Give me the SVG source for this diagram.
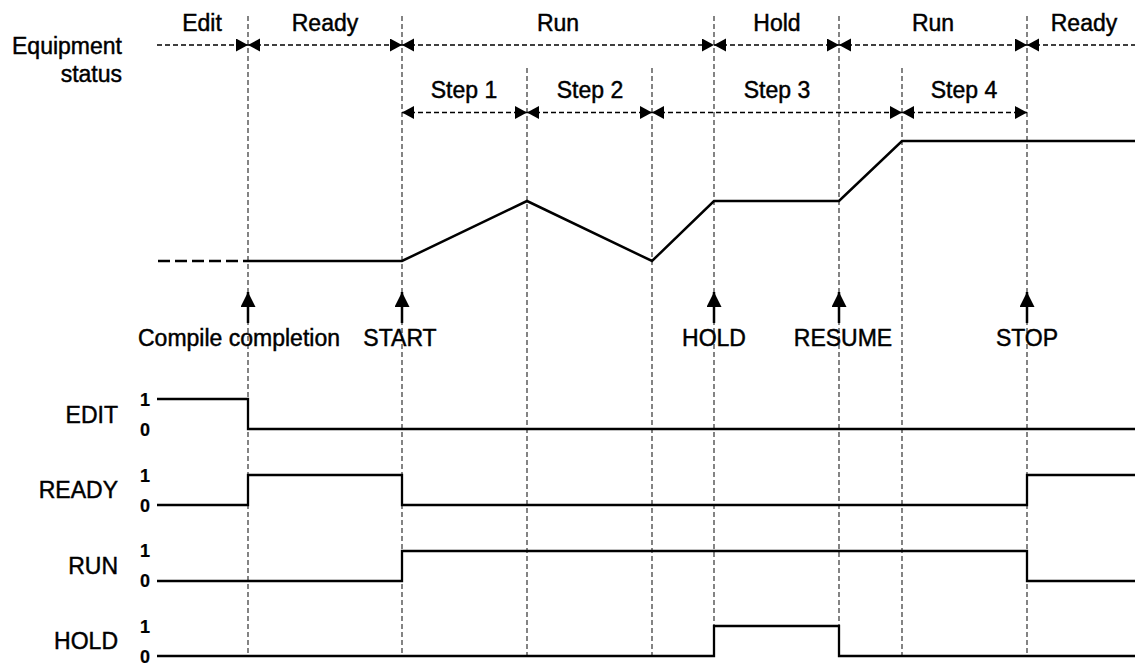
<svg xmlns="http://www.w3.org/2000/svg" width="1140" height="667" viewBox="0 0 1140 667">
<style>
text{font-family:"Liberation Sans",Arial,sans-serif;font-size:23px;fill:#000;stroke:#000;stroke-width:0.45}
.c{text-anchor:middle}
.e{text-anchor:end}
.d{font-size:18px;font-weight:bold;text-anchor:middle;stroke-width:0.2}
.vl{stroke:#333;stroke-width:1.2;stroke-dasharray:5 3;fill:none}
.hd{stroke:#000;stroke-width:1.3;stroke-dasharray:5 3;fill:none}
.ar{marker-start:url(#ah);marker-end:url(#ah)}
.sig{stroke:#000;stroke-width:2.3;fill:none}
.curve{stroke:#000;stroke-width:2.5;fill:none;stroke-linejoin:miter}
.ev{stroke:#000;stroke-width:2.5;fill:none}
</style>
<defs>
<marker id="ah" markerUnits="userSpaceOnUse" markerWidth="13" markerHeight="14" refX="12" refY="6.5" orient="auto-start-reverse" viewBox="0 0 13 14">
<path d="M0,0 L12,6.5 L0,13 Z" fill="#000"/>
</marker>
<marker id="up" markerUnits="userSpaceOnUse" markerWidth="16" markerHeight="16" refX="15" refY="7.5" orient="auto" viewBox="0 0 16 16">
<path d="M0,0 L15,7.5 L0,15 Z" fill="#000"/>
</marker>
</defs>

<g id="gridlines">
<line class="vl" x1="248" y1="16" x2="248" y2="657"/>
<line class="vl" x1="402" y1="16" x2="402" y2="657"/>
<line class="vl" x1="527" y1="68" x2="527" y2="657"/>
<line class="vl" x1="652" y1="68" x2="652" y2="657"/>
<line class="vl" x1="714" y1="16" x2="714" y2="657"/>
<line class="vl" x1="839" y1="16" x2="839" y2="657"/>
<line class="vl" x1="902" y1="68" x2="902" y2="657"/>
<line class="vl" x1="1027" y1="16" x2="1027" y2="657"/>
</g>

<g id="connectors">
<line class="hd" x1="157" y1="45" x2="248" y2="45" marker-end="url(#ah)"/>
<line class="hd ar" x1="248" y1="45" x2="402" y2="45"/>
<line class="hd ar" x1="402" y1="45" x2="714" y2="45"/>
<line class="hd ar" x1="714" y1="45" x2="839" y2="45"/>
<line class="hd ar" x1="839" y1="45" x2="1027" y2="45"/>
<line class="hd" x1="1027" y1="45" x2="1135" y2="45" marker-start="url(#ah)"/>

<line class="hd ar" x1="402" y1="112.5" x2="527" y2="112.5"/>
<line class="hd ar" x1="527" y1="112.5" x2="652" y2="112.5"/>
<line class="hd ar" x1="652" y1="112.5" x2="902" y2="112.5"/>
<line class="hd ar" x1="902" y1="112.5" x2="1027" y2="112.5"/>

<line x1="158" y1="261" x2="248" y2="261" stroke="#000" stroke-width="2.5" stroke-dasharray="12 5"/>
<polyline class="curve" points="248,261 402,261 527,201 652,261 714,201 839,201 902,141 1135,141"/>

<line class="ev" x1="248" y1="323" x2="248" y2="292" marker-end="url(#up)"/>
<line class="ev" x1="402" y1="323" x2="402" y2="292" marker-end="url(#up)"/>
<line class="ev" x1="714" y1="323" x2="714" y2="292" marker-end="url(#up)"/>
<line class="ev" x1="839" y1="323" x2="839" y2="292" marker-end="url(#up)"/>
<line class="ev" x1="1027" y1="323" x2="1027" y2="292" marker-end="url(#up)"/>
</g>

<g id="status-labels">
<text class="e" x="122" y="54">Equipment</text>
<text class="e" x="122" y="82">status</text>
<text class="c" x="202" y="31">Edit</text>
<text class="c" x="325" y="31">Ready</text>
<text class="c" x="558" y="31">Run</text>
<text class="c" x="777" y="31">Hold</text>
<text class="c" x="933" y="31">Run</text>
<text class="c" x="1084" y="31">Ready</text>
</g>

<g id="step-labels">
<text class="c" x="464" y="98">Step 1</text>
<text class="c" x="590" y="98">Step 2</text>
<text class="c" x="777" y="98">Step 3</text>
<text class="c" x="964" y="98">Step 4</text>
</g>

<g id="event-labels">
<text class="c" x="239" y="345.5">Compile completion</text>
<text class="c" x="400" y="345.5">START</text>
<text class="c" x="714" y="345.5">HOLD</text>
<text class="c" x="843" y="345.5">RESUME</text>
<text class="c" x="1027" y="345.5">STOP</text>
</g>

<g id="signal-edit">
<text class="e" x="118" y="423">EDIT</text>
<text class="d" x="145" y="406">1</text>
<text class="d" x="145" y="436">0</text>
<polyline class="sig" points="157,399 248,399 248,429 1135,429"/>
</g>

<g id="signal-ready">
<text class="e" x="118" y="498">READY</text>
<text class="d" x="145" y="481.5">1</text>
<text class="d" x="145" y="512">0</text>
<polyline class="sig" points="157,505 248,505 248,475 402,475 402,505 1027,505 1027,475 1135,475"/>
</g>

<g id="signal-run">
<text class="e" x="118" y="574">RUN</text>
<text class="d" x="145" y="557">1</text>
<text class="d" x="145" y="587">0</text>
<polyline class="sig" points="157,581 402,581 402,551 1027,551 1027,581 1135,581"/>
</g>

<g id="signal-hold">
<text class="e" x="118" y="649">HOLD</text>
<text class="d" x="145" y="632.5">1</text>
<text class="d" x="145" y="662.5">0</text>
<polyline class="sig" points="157,656 714,656 714,626 839,626 839,656 1135,656"/>
</g>
</svg>
